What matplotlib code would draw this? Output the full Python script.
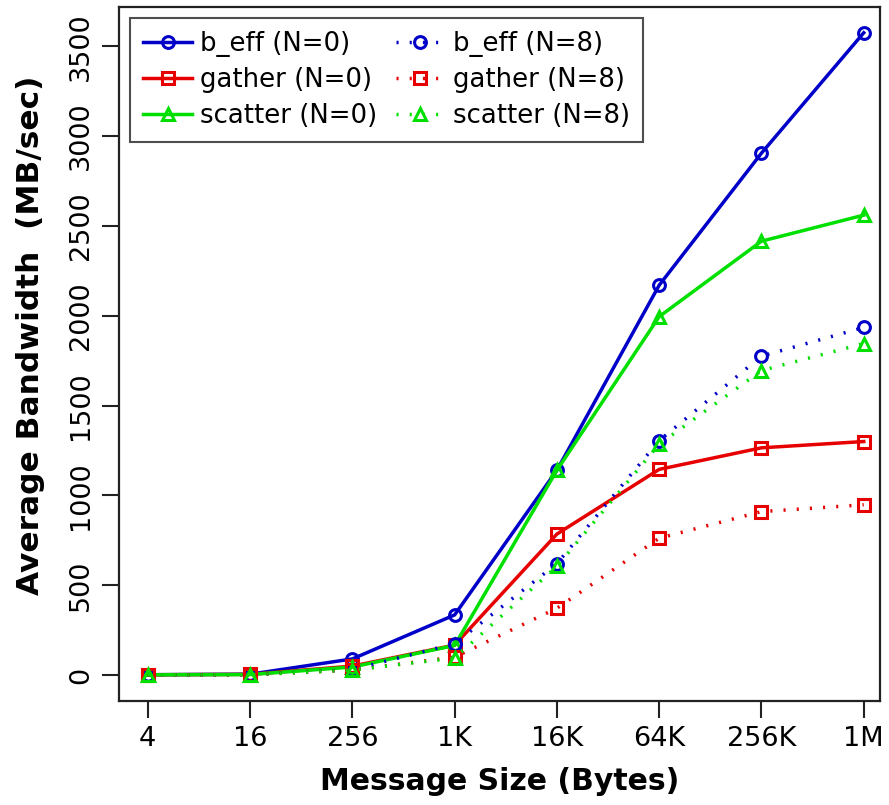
import matplotlib.pyplot as plt
import numpy as np

sizes = ['4', '16', '256', '1K', '16K', '64K', '256K', '1M']

beff_n0 = [2, 5, 90, 335, 1140, 2170, 2905, 3575]
gather_n0 = [2, 4, 50, 167, 785, 1145, 1265, 1300]
scatter_n0 = [2, 3, 45, 165, 1140, 1995, 2415, 2560]
beff_n8 = [1, 2, 30, 175, 620, 1305, 1775, 1935]
gather_n8 = [1, 2, 28, 100, 372, 762, 910, 948]
scatter_n8 = [1, 2, 28, 95, 605, 1285, 1695, 1845]

blue = '#0000C8'
red = '#E60000'
green = '#00E000'
dots = (0, (0.6, 3.2))

x = np.arange(len(sizes))

fig = plt.figure(figsize=(8.89, 8.05), dpi=100)
ax = fig.add_axes([0.134, 0.129, 0.856, 0.862])

mk = dict(markersize=8.5, markerfacecolor='none', markeredgewidth=2.2, linewidth=2.5)
ax.plot(x, beff_n0, color=blue, marker='o', label='b_eff (N=0)', **mk)
ax.plot(x, gather_n0, color=red, marker='s', label='gather (N=0)', **mk)
ax.plot(x, scatter_n0, color=green, marker='^', label='scatter (N=0)', **mk)
ax.plot(x, beff_n8, color=blue, marker='o', linestyle=dots, label='b_eff (N=8)', **mk)
ax.plot(x, gather_n8, color=red, marker='s', linestyle=dots, label='gather (N=8)', **mk)
ax.plot(x, scatter_n8, color=green, marker='^', linestyle=dots, label='scatter (N=8)', **mk)

ax.set_xlim(-0.28, 7.16)
ax.set_ylim(-145, 3717)
ax.set_xticks(x)
ax.set_xticklabels(sizes, fontsize=19.5)
ax.set_yticks(np.arange(0, 3501, 500))
ax.set_yticklabels([str(v) for v in range(0, 3501, 500)], fontsize=19.5,
                   rotation=90, va='center')
ax.tick_params(length=12, width=1.5, color='#222222', pad=6)
for s in ax.spines.values():
    s.set_linewidth(1.6)
    s.set_color('#222222')

ax.set_xlabel('Message Size (Bytes)', fontsize=21.5, fontweight='bold', labelpad=11)
ax.set_ylabel('Average Bandwidth  (MB/sec)', fontsize=22.5, fontweight='bold')
ax.yaxis.set_label_coords(-0.097, 0.527)

leg = ax.legend(loc='upper left', ncol=2, fontsize=18.7, frameon=True, fancybox=False,
                edgecolor='#222222', handlelength=1.9, handletextpad=0.3,
                columnspacing=0.7, borderaxespad=0.42, labelspacing=0.38,
                borderpad=0.5)
leg.get_frame().set_linewidth(1.5)

fig.savefig('out.png', dpi=100)
